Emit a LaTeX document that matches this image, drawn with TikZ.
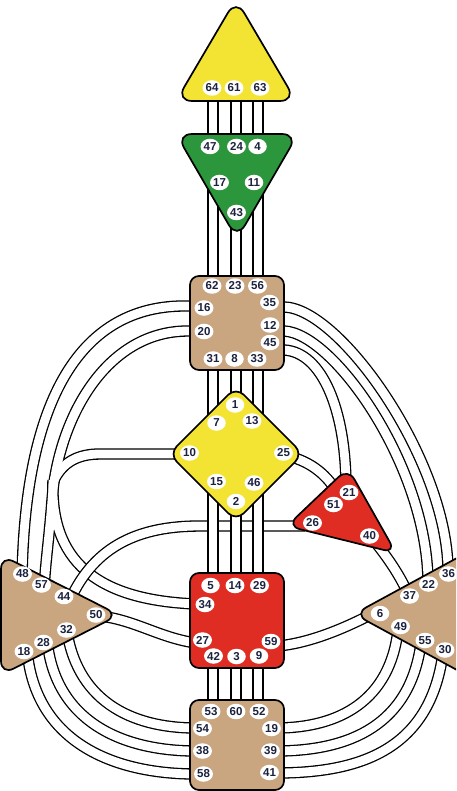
\documentclass[tikz,border=0pt]{standalone}
\usepackage{fontspec}
\newfontfamily\gatefont{Liberation Sans}
\usetikzlibrary{shapes.geometric}
\definecolor{hdyellow}{RGB}{243,228,52}
\definecolor{hdgreen}{RGB}{44,150,60}
\definecolor{hdtan}{RGB}{201,166,128}
\definecolor{hdred}{RGB}{224,45,36}
\definecolor{gatetext}{RGB}{28,34,62}
\begin{document}
\begin{tikzpicture}[x=1pt,y=-1pt,
  chan/.style={draw=black,line width=1.3pt,double=white,double distance=8.8pt},
  chanout/.style={draw=black,line width=11.4pt},
  chanin/.style={draw=white,line width=8.8pt},
  centre/.style={draw=black,line width=1.7pt,rounded corners=9pt},
  tri/.style={centre,rounded corners=16pt},
  gate/.style={ellipse,fill=white,inner sep=0.3pt,minimum width=18.5pt,minimum height=15.5pt,
    font=\gatefont\bfseries\fontsize{11.5}{11.5}\selectfont,text=gatetext}]
\useasboundingbox (0,0) rectangle (456,791);
\clip (0,0) rectangle (456,791);

% ---------- channels ----------
% throat - spleen (16-48)
\draw[chan] (196,306) -- (188,306) .. controls (80,304) and (25,400) .. (22,578);
% throat - solar plexus
\draw[chan] (278,307) -- (284,307) .. controls (340,308) and (447,460) .. (448,570);
\draw[chan] (278,331) -- (284,331) .. controls (333,333) and (427,465) .. (428,582);
% throat - ego (45-21)
\draw[chan] (278,350) -- (284,350) .. controls (322,352) and (346,410) .. (346,488);
% G - ego (25-51)
\draw[chan] (288,456) .. controls (312,462) and (328,476) .. (338,494);
% ego - solar plexus (40-37)
\draw[chan] (372,538) .. controls (388,558) and (400,575) .. (410,598);
% spleen - root
\draw[chan] (66,625) .. controls (75,700) and (130,728) .. (196,728);
\draw[chan] (47,640) .. controls (55,720) and (120,751) .. (196,751);
\draw[chan] (27,650) .. controls (35,740) and (110,774) .. (196,774);
% solar plexus - root
\draw[chan] (398,630) .. controls (390,700) and (340,728) .. (276,728);
\draw[chan] (421,643) .. controls (410,725) and (350,751) .. (276,751);
\draw[chan] (443,653) .. controls (430,750) and (360,773) .. (276,773);
% spleen - sacral (50-27)
\draw[chan] (100,616) .. controls (135,620) and (160,638) .. (196,643);
% sacral - solar plexus (59-6)
\draw[chan] (278,646) .. controls (310,643) and (345,628) .. (372,614);

% integration channels (20, 10, 34, 57) drawn as one merged strip
\def\pathB{(196,331) -- (188,331) .. controls (105,331) and (58,420) .. (52,500) .. controls (49,540) and (45,565) .. (44,592)}
\def\pathT{(182,454) -- (100,454) .. controls (78,454) and (63,462) .. (54,480)}
\def\pathC{(53,480) .. controls (50,560) and (95,600) .. (196,604)}
\draw[chanout] \pathB; \draw[chanout] \pathT; \draw[chanout] \pathC;
\draw[chanin] \pathB; \draw[chanin] \pathT; \draw[chanin] \pathC;

% ego - spleen (26-44)
\draw[chan] (305,526) -- (200,526) .. controls (140,526) and (95,545) .. (70,600);

% vertical channels
\foreach \x in {213,236,258} \draw[chan] (\x,95) -- (\x,705);

% ---------- centres ----------
\draw[tri,fill=hdyellow] (236,-1) -- (296,101) -- (176,101) -- cycle;
\draw[tri,fill=hdgreen] (176,134) -- (298,134) -- (237,239) -- cycle;
\draw[centre,fill=hdtan] (190,276) rectangle (284,370);
\draw[centre,fill=hdyellow,rounded corners=11pt] (236,387) -- (303,454) -- (236,521) -- (169,454) -- cycle;
\draw[tri,rounded corners=13pt,fill=hdred] (348,468) -- (396,553) -- (287,526) -- cycle;
\draw[centre,fill=hdred] (190,573) rectangle (284,668);
\draw[centre,fill=hdtan] (190,700) rectangle (284,790);
\draw[tri,rounded corners=14pt,fill=hdtan] (1,555) -- (119,615) -- (1,675) -- cycle;
\draw[tri,rounded corners=14pt,fill=hdtan] (354,614) -- (468,552) -- (468,676) -- cycle;

% ---------- gates ----------
\foreach \n/\x/\y in {
 64/212/88, 61/234/88, 63/260/88,
 47/210/146.5, 24/236.5/146.5, 4/257.5/146.5, 17/219.5/182.5, 11/254/182.5, 43/236.5/212.5,
 62/212/286, 23/235/286, 56/257.5/286, 35/269.5/302.5, 16/204/308, 12/270/325, 20/204/331.5, 45/270/342.5,
 31/213/359, 8/234.5/359, 33/257/359,
 1/235/405, 7/216.5/423, 13/252/421, 10/189.5/453, 25/283.5/453, 15/216.5/481.5, 46/254/483, 2/236/501.5,
 21/349/492.5, 51/333.5/504.5, 26/312.5/523, 40/369.5/536,
 5/210.5/585.5, 14/235/585.5, 29/259.5/585.5, 34/205/604.5, 27/202.5/640, 59/271/641.5, 42/213.5/656, 3/236.5/656.5, 9/259/656,
 53/211/711.5, 60/236/711.5, 52/259/711.5, 54/202.5/728.5, 19/271.5/728.5, 38/202.5/751, 39/270.5/751, 58/203.5/774, 41/269.5/772.5,
 48/22.5/574, 57/41.5/585, 44/64/596.5, 50/96/615, 32/66.5/630, 28/43.5/642.5, 18/24/651.5,
 36/448.5/574, 22/428.5/584, 37/409.5/596, 6/380/613.5, 49/400.5/626.5, 55/425/640.5, 30/445/650}
 \node[gate] (g\n) at (\x,\y) {\n};
\end{tikzpicture}
\end{document}
